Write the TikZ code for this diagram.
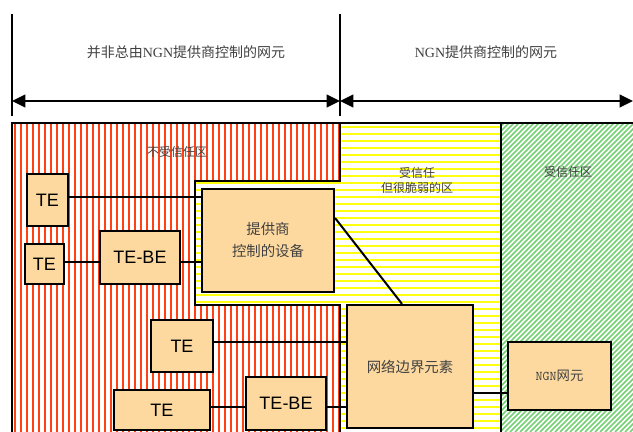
\documentclass[tikz,border=0pt]{standalone}
\usepackage{fontspec}
\setmainfont{Liberation Sans}
\newfontfamily\cjk{Noto Sans CJK SC}
\newfontfamily\lser{Liberation Serif}
\usetikzlibrary{arrows.meta,calc}
\definecolor{peach}{HTML}{FDD9A0}
\definecolor{stripered}{HTML}{FF4015}
\definecolor{stripeyellow}{HTML}{FFFF10}
\definecolor{stripegreen}{HTML}{74D174}
\definecolor{txtgray}{HTML}{404040}
\begin{document}
\begin{tikzpicture}[x=0.75pt,y=-0.75pt,
  border/.style={line width=1.5pt,black},
  box/.style={draw=black,line width=1.6pt,fill=peach,inner sep=0pt,align=center},
  tebox/.style={box,font=\fontsize{13.5}{15}\selectfont},
  cnbox/.style={box,font=\cjk\fontsize{10.8}{16.5}\selectfont,text=txtgray},
  zonelabel/.style={font=\cjk\fontsize{9}{11.25}\selectfont,text=txtgray,align=center},
  header/.style={font=\cjk\fontsize{10.5}{12}\selectfont,text=txtgray},
  conn/.style={line width=1.5pt,black},
  dim/.style={line width=1.6pt,{Triangle[length=10pt,width=9.5pt]}-{Triangle[length=10pt,width=9.5pt]}}]
\useasboundingbox (0,0) rectangle (633,432);

% red stripes (untrusted zone)
\begin{scope}
\clip (12,123) -- (340,123) -- (340,181) -- (195,181) -- (195,305) -- (340,305) -- (340,432) -- (12,432) -- cycle;
\foreach \x in {15,21,...,340} \draw[stripered,line width=1.1pt] (\x,123) -- (\x,432);
\end{scope}
% yellow stripes (trusted but vulnerable)
\begin{scope}
\clip (340,123) -- (501,123) -- (501,432) -- (340,432) -- (340,305) -- (195,305) -- (195,181) -- (340,181) -- cycle;
\foreach \y in {127,134,...,432} \draw[stripeyellow,line width=2pt] (195,\y) -- (501,\y);
\end{scope}
% green hatch (trusted)
\begin{scope}
\clip (501,123) rectangle (633,432);
\foreach \x in {180,185,...,640} \draw[stripegreen,line width=1.1pt] (\x,432) -- ++(320,-320);
\end{scope}

% zone borders
\draw[border] (12,432) -- (12,123) -- (633,123);
\draw[border] (340,123) -- (340,181) -- (195,181) -- (195,305) -- (340,305) -- (340,432);
\draw[border] (501,123) -- (501,432);

% top dimension lines
\draw[border] (12,14) -- (12,116);
\draw[border] (340,14) -- (340,116);
\coordinate (dL) at (12,101);
\coordinate (dM) at (340,101);
\coordinate (dR) at (633,101);
\draw[dim] (dL) -- (dM);
\draw[dim] (dM) -- (dR);
\node[header] (h1) at (186,52) {并非总由{\lser NGN}提供商控制的网元};
\node[header] (h2) at (486,52) {{\lser NGN}提供商控制的网元};

% zone labels
\node[zonelabel] (z1) at (177,152) {不受信任区};
\node[zonelabel] (z2) at (417,180) {受信任\\但很脆弱的区};
\node[zonelabel] (z3) at (568,172) {受信任区};

% nodes
\node[tebox,minimum width=30.75pt,minimum height=39pt] (te1) at (47.5,200) {TE};
\node[tebox,minimum width=29.25pt,minimum height=30pt] (te2) at (44.5,264) {TE};
\node[tebox,minimum width=60pt,minimum height=39.75pt] (tebe1) at (140,257.5) {TE-BE};
\node[cnbox,minimum width=99pt,minimum height=77.25pt] (prov) at (268,240.5) {提供商\\控制的设备};
\node[tebox,minimum width=46.5pt,minimum height=39pt] (te3) at (182,346) {TE};
\node[tebox,minimum width=72pt,minimum height=30pt] (te4) at (162,410) {TE};
\node[tebox,minimum width=60pt,minimum height=39.75pt] (tebe2) at (286,403.5) {TE-BE};
\node[cnbox,minimum width=94.5pt,minimum height=92.25pt] (nee) at (410,366.5) {网络边界元素};
\node[cnbox,minimum width=77.25pt,minimum height=51pt,font=\cjk\fontsize{10}{12}\selectfont] (ngn) at (559.5,376) {{\ttfamily NGN}网元};

% connectors
\coordinate (yA) at (0,197);
\coordinate (yB) at (0,262);
\coordinate (yC) at (0,342);
\coordinate (yD) at (0,407);
\coordinate (yE) at (0,393);
\coordinate (yF) at (0,218);
\coordinate (xG) at (402,0);
\draw[conn] (te1.east |- yA) -- (prov.west |- yA);
\draw[conn] (te2.east |- yB) -- (tebe1.west |- yB);
\draw[conn] (tebe1.east |- yB) -- (prov.west |- yB);
\draw[conn] (te3.east |- yC) -- (nee.west |- yC);
\draw[conn] (te4.east |- yD) -- (tebe2.west |- yD);
\draw[conn] (tebe2.east |- yD) -- (nee.west |- yD);
\draw[conn] (nee.east |- yE) -- (ngn.west |- yE);
\draw[conn] (prov.east |- yF) -- (nee.north -| xG);
\end{tikzpicture}
\end{document}
